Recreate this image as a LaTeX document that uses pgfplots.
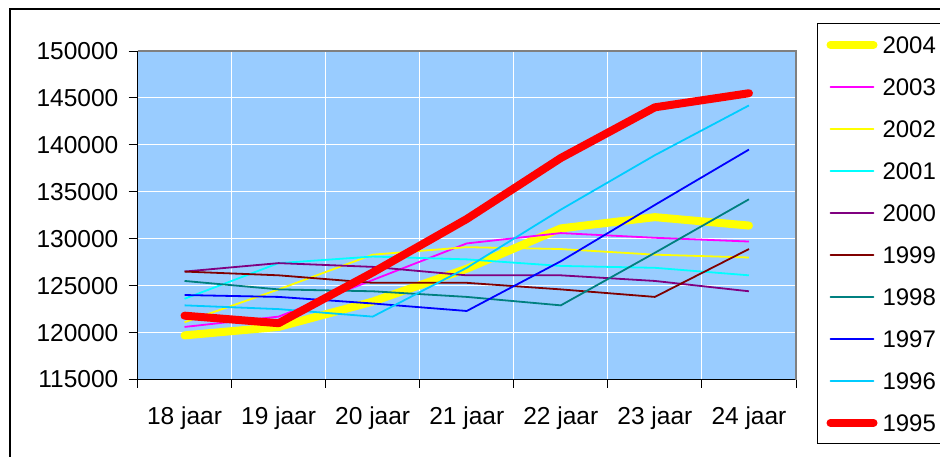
\documentclass[border=0pt]{standalone}
\usepackage{pgfplots}
\pgfplotsset{compat=1.18}
\usepackage{fontspec}
\setmainfont{Liberation Sans}
\definecolor{bgblue}{HTML}{99CCFF}
\definecolor{c2004}{HTML}{FFFF00}
\definecolor{c2003}{HTML}{FF00FF}
\definecolor{c2002}{HTML}{FFFF00}
\definecolor{c2001}{HTML}{00FFFF}
\definecolor{c2000}{HTML}{800080}
\definecolor{c1999}{HTML}{800000}
\definecolor{c1998}{HTML}{008080}
\definecolor{c1997}{HTML}{0000FF}
\definecolor{c1996}{HTML}{00CCFF}
\definecolor{c1995}{HTML}{FF0000}
\begin{document}
\fontsize{24}{28}\selectfont
\begin{tikzpicture}[x=1pt,y=1pt]
\path[use as bounding box] (0,0) rectangle (940,456);
\fill[white] (0,0) rectangle (940,456);
\draw[line width=2pt] (10,-20) rectangle (970,447);
\begin{axis}[
  at={(137.5pt,76.5pt)}, anchor=south west,
  scale only axis, width=658.5pt, height=328.5pt,
  xmin=-0.5, xmax=6.5, ymin=115000, ymax=150000,
  scaled y ticks=false,
  xtick={0,...,6},
  xticklabels={18 jaar,19 jaar,20 jaar,21 jaar,22 jaar,23 jaar,24 jaar},
  minor xtick={-0.5,0.5,...,6.5},
  ytick={115000,120000,125000,130000,135000,140000,145000,150000},
  yticklabels={115000,120000,125000,130000,135000,140000,145000,150000},
  xminorgrids, ymajorgrids,
  major grid style={white, line width=1pt},
  minor grid style={white, line width=1pt},
  axis background/.style={fill=bgblue},
  tick align=outside, tick pos=left,
  major tick length=9pt, minor tick length=8pt,
  every major x tick/.append style={draw=none},
  every tick/.append style={black, line width=1pt},
  axis line style={black, line width=1pt},
  tick label style={font=\fontsize{24.5}{28}\selectfont},
  yticklabel style={inner sep=0pt, xshift=-10pt},
  xticklabel style={inner sep=0pt, yshift=-18pt},
  legend style={at={(1.0319,1.0843)}, anchor=north west, draw=black, line width=1pt,
    fill=white, inner xsep=9pt, inner ysep=12.5pt, row sep=25pt, column sep=5pt,
    font=\fontsize{24}{28}\selectfont,
    nodes={inner sep=0pt, text height=17pt, text depth=0pt}},
  legend cell align=left,
  legend image code/.code={\draw[#1, line cap=round] (4pt,0pt) -- (47pt,0pt);},
  after end axis/.code={\draw[gray, line width=1.5pt] (rel axis cs:0,1) -- (rel axis cs:1,1) -- (rel axis cs:1,0);},
]
\addplot[c2004, line width=8pt, line cap=round, line join=round] coordinates {(0,119700) (1,120600) (2,123300) (3,126800) (4,131100) (5,132300) (6,131400)};
\addlegendentry{2004}
\addplot[c2003, line width=1.8pt] coordinates {(0,120600) (1,121700) (2,125600) (3,129500) (4,130600) (5,130100) (6,129700)};
\addlegendentry{2003}
\addplot[c2002, line width=1.8pt] coordinates {(0,121100) (1,124600) (2,128300) (3,129100) (4,128900) (5,128300) (6,128000)};
\addlegendentry{2002}
\addplot[c2001, line width=1.8pt] coordinates {(0,123600) (1,127400) (2,128100) (3,127800) (4,127100) (5,126900) (6,126100)};
\addlegendentry{2001}
\addplot[c2000, line width=1.8pt] coordinates {(0,126500) (1,127400) (2,127000) (3,126100) (4,126100) (5,125500) (6,124400)};
\addlegendentry{2000}
\addplot[c1999, line width=1.8pt] coordinates {(0,126500) (1,126100) (2,125300) (3,125300) (4,124600) (5,123800) (6,128900)};
\addlegendentry{1999}
\addplot[c1998, line width=1.8pt] coordinates {(0,125500) (1,124600) (2,124400) (3,123800) (4,122900) (5,128500) (6,134200)};
\addlegendentry{1998}
\addplot[c1997, line width=1.8pt] coordinates {(0,124000) (1,123800) (2,123100) (3,122300) (4,127600) (5,133600) (6,139500)};
\addlegendentry{1997}
\addplot[c1996, line width=1.8pt] coordinates {(0,122900) (1,122500) (2,121700) (3,126900) (4,133100) (5,138900) (6,144200)};
\addlegendentry{1996}
\addplot[c1995, line width=8pt, line cap=round, line join=round] coordinates {(0,121800) (1,121000) (2,126400) (3,132100) (4,138600) (5,144000) (6,145500)};
\addlegendentry{1995}
\end{axis}
\end{tikzpicture}
\end{document}
